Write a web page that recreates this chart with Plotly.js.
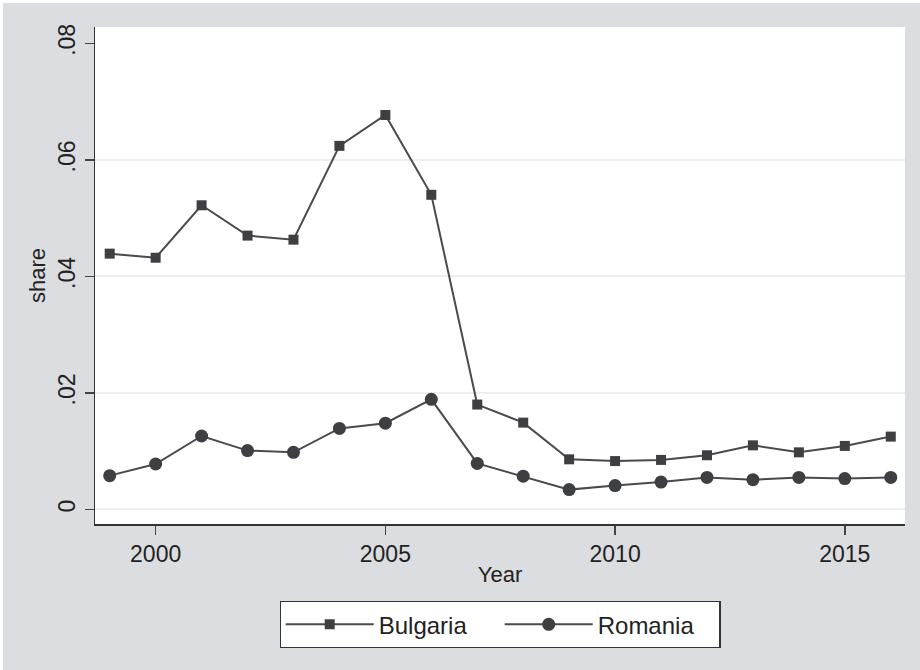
<!DOCTYPE html>
<html>
<head>
<meta charset="utf-8">
<script src="https://cdn.plot.ly/plotly-3.0.1.min.js"></script>
<style>
html,body{margin:0;padding:0;background:#ffffff;}
#chart{position:absolute;left:3px;top:3px;width:917px;height:667px;}
</style>
</head>
<body>
<div id="chart"></div>
<script>
const years = [1999,2000,2001,2002,2003,2004,2005,2006,2007,2008,2009,2010,2011,2012,2013,2014,2015,2016];
const bulgaria = [0.0439,0.0432,0.0522,0.0470,0.0463,0.0624,0.0677,0.0540,0.0180,0.0149,0.0086,0.0083,0.0085,0.0093,0.0110,0.0098,0.0109,0.0125];
const romania = [0.0058,0.0078,0.0126,0.0101,0.0098,0.0139,0.0148,0.0189,0.0079,0.0057,0.0034,0.0041,0.0047,0.0055,0.0051,0.0055,0.0053,0.0055];
const xTickVals = [2000,2005,2010,2015];
const yTickVals = [0,0.02,0.04,0.06,0.08];
const yTickText = ['0','.02','.04','.06','.08'];
const yGridVals = [0,0.02,0.04,0.06];

const FONT = 'Liberation Sans, Arial, sans-serif';
const yRange = [-0.0025, 0.0828];

const traces = [
  {x: years, y: bulgaria, name: 'Bulgaria', type: 'scatter', mode: 'lines+markers',
   line: {color: '#4a4a4a', width: 2}, marker: {symbol: 'square', size: 10, color: '#3e3f42'}},
  {x: years, y: romania, name: 'Romania', type: 'scatter', mode: 'lines+markers',
   line: {color: '#4a4a4a', width: 2}, marker: {symbol: 'circle', size: 13, color: '#3e3f42'}},
  {x: [years[0]], y: [null], yaxis: 'y2', showlegend: false, hoverinfo: 'skip', mode: 'markers'}
];

const layout = {
  width: 917, height: 667,
  paper_bgcolor: '#dcdde0',
  plot_bgcolor: '#ffffff',
  margin: {l: 92, r: 15, t: 24, b: 146},
  font: {family: FONT, size: 22, color: '#222222'},
  showlegend: true,
  legend: {
    orientation: 'h', x: 0.5, xanchor: 'center', y: -0.155, yanchor: 'top',
    bgcolor: '#ffffff', bordercolor: '#333333', borderwidth: 1.2,
    font: {family: FONT, size: 24, color: '#222222'},
    itemwidth: 88, entrywidth: 116, entrywidthmode: 'pixels', tracegroupgap: 0
  },
  xaxis: {
    range: [1998.68, 2016.31],
    tickvals: xTickVals, ticktext: xTickVals.map(String),
    ticks: 'outside', ticklen: 9, tickwidth: 1.5, tickcolor: '#444444',
    showline: true, linecolor: '#333333', linewidth: 1.5,
    showgrid: false, zeroline: false,
    tickfont: {family: FONT, size: 23, color: '#222222'},
    title: {text: 'Year', font: {family: FONT, size: 22, color: '#222222'}, standoff: 0}
  },
  yaxis: {
    range: yRange,
    tickvals: yTickVals, ticktext: yTickText,
    tickangle: -90,
    ticks: 'outside', ticklen: 9, tickwidth: 1.5, tickcolor: '#444444',
    showline: true, linecolor: '#333333', linewidth: 1.5,
    showgrid: false, zeroline: false,
    tickfont: {family: FONT, size: 23, color: '#222222'},
    title: {text: 'share', font: {family: FONT, size: 22, color: '#222222'}, standoff: 2}
  },
  yaxis2: {
    range: yRange, overlaying: 'y', side: 'left',
    tickvals: yGridVals, showticklabels: false, ticks: '',
    showgrid: true, gridcolor: '#eeeeee', gridwidth: 2,
    zeroline: false, showline: false
  }
};

Plotly.newPlot('chart', traces, layout, {displayModeBar: false, staticPlot: true});
</script>
</body>
</html>
